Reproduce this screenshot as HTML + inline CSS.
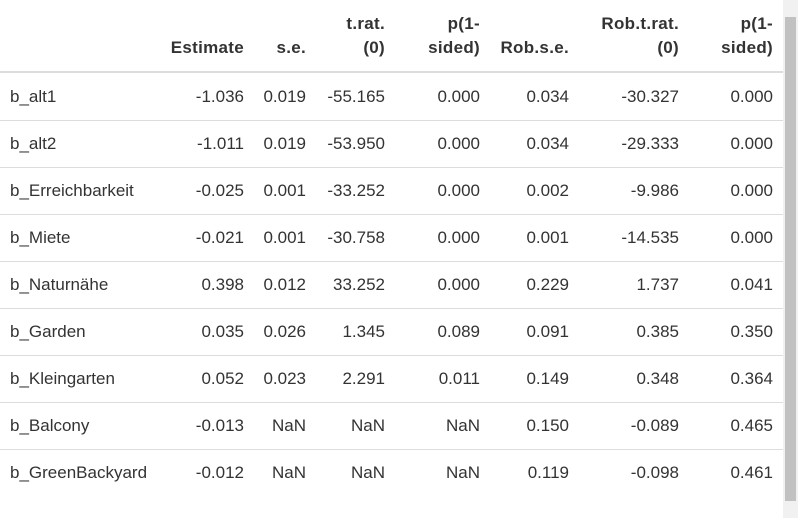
<!DOCTYPE html>
<html><head><meta charset="utf-8"><style>
body{margin:0;width:798px;height:518px;overflow:hidden;background:#fff;font-family:"Liberation Sans",sans-serif;color:#333;position:relative}
.c{position:absolute;font-size:17px;line-height:20px;white-space:nowrap}
.h{font-weight:bold;text-align:right;letter-spacing:0.3px}
.r{text-align:right}
.line{position:absolute;left:0;width:783px;background:#ddd}
#sb{position:absolute;left:783px;top:0;width:15px;height:518px;background:#f1f1f1}
#thumb{position:absolute;left:785px;top:17px;width:11px;height:484px;background:#c1c1c1}
</style></head><body>
<div id="sb"></div>
<div id="thumb"></div>
<div class="line" style="top:71px;height:2px"></div>
<div id="t"></div>
<script>
const headers=[["","Estimate"],["","s.e."],["t.rat.","(0)"],["p(1-","sided)"],["","Rob.s.e."],["Rob.t.rat.","(0)"],["p(1-","sided)"]];
const names=["b_alt1","b_alt2","b_Erreichbarkeit","b_Miete","b_Naturnähe","b_Garden","b_Kleingarten","b_Balcony","b_GreenBackyard"];
const rows=[
["-1.036","0.019","-55.165","0.000","0.034","-30.327","0.000"],
["-1.011","0.019","-53.950","0.000","0.034","-29.333","0.000"],
["-0.025","0.001","-33.252","0.000","0.002","-9.986","0.000"],
["-0.021","0.001","-30.758","0.000","0.001","-14.535","0.000"],
["0.398","0.012","33.252","0.000","0.229","1.737","0.041"],
["0.035","0.026","1.345","0.089","0.091","0.385","0.350"],
["0.052","0.023","2.291","0.011","0.149","0.348","0.364"],
["-0.013","NaN","NaN","NaN","0.150","-0.089","0.465"],
["-0.012","NaN","NaN","NaN","0.119","-0.098","0.461"]];
const right=[244,306,385,480,569,679,773];
const T=document.getElementById('t');
function cell(txt,x,y,cls){const d=document.createElement('div');d.className='c '+cls;d.textContent=txt;
if(cls.indexOf('r')>=0||cls.indexOf('h')>=0){d.style.left=(x-200)+'px';d.style.width='200px';}else d.style.left=x+'px';
d.style.top=y+'px';T.appendChild(d);return d;}
headers.forEach((h,i)=>{h.forEach((s,j)=>{if(!s)return;const d=cell(s,right[i],14+24*j,'h');

});});
names.forEach((n,r)=>{const y=87+47*r;
const d=cell(n,10,y,'');


rows[r].forEach((v,i)=>{const c=cell(v,right[i],y,'r');

});
if(r<names.length-1){const l=document.createElement('div');l.className='line';l.style.top=(120+47*r)+'px';l.style.height='1px';


T.appendChild(l);}});
</script>
</body></html>
